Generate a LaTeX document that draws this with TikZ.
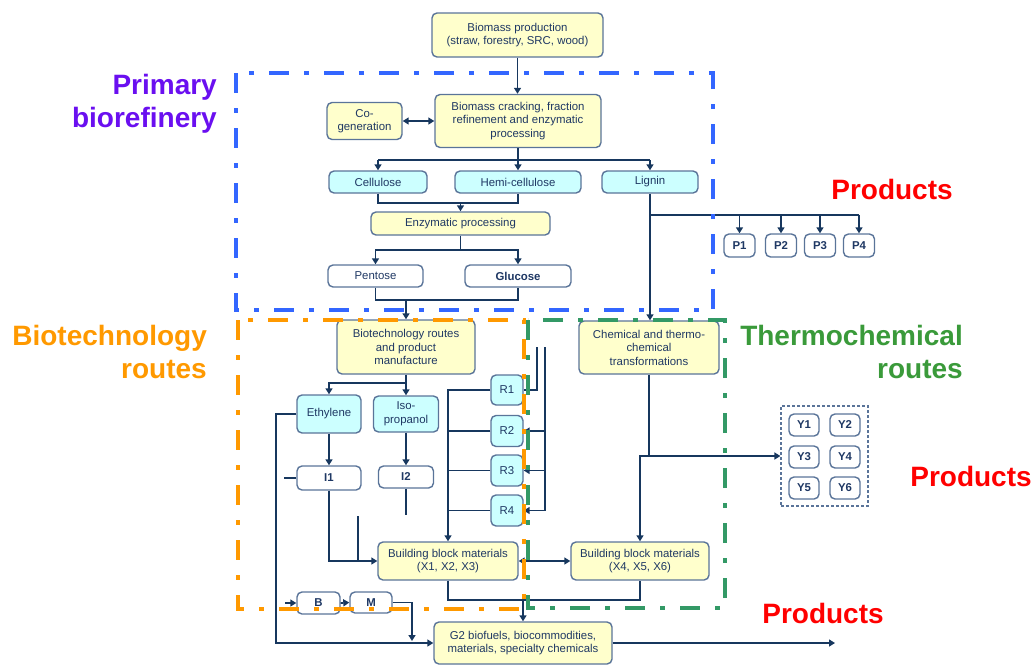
\documentclass[tikz,border=0pt]{standalone}
\usepackage{fontspec}
\setmainfont{Liberation Sans}
\usetikzlibrary{arrows.meta}
\definecolor{navy}{HTML}{17375E}
\definecolor{txt}{HTML}{1F3864}
\definecolor{bord}{HTML}{5A7499}
\definecolor{yel}{HTML}{FFFFCC}
\definecolor{cyn}{HTML}{CCFFFF}
\definecolor{fblue}{HTML}{3366FF}
\definecolor{forange}{HTML}{FF9900}
\definecolor{fgreen}{HTML}{339966}
\definecolor{purp}{HTML}{6A0FF0}
\definecolor{lgreen}{HTML}{3A9A3A}
\tikzset{
  box/.style={draw=bord, line width=1.4pt, rounded corners=5pt, text=txt,
    font=\fontsize{11.4}{13.5}\selectfont, align=center, inner sep=0pt},
  ybox/.style={box, fill=yel},
  cbox/.style={box, fill=cyn},
  wbox/.style={box, fill=white},
  bbox/.style={box, fill=white, font=\fontsize{11.4}{13.5}\selectfont\bfseries},
  ln/.style={draw=navy, line width=1.8pt},
  arr/.style={ln, -{Triangle[width=7pt,length=6pt]}},
  darr/.style={ln, {Triangle[width=7pt,length=6pt]}-{Triangle[width=7pt,length=6pt]}},
  frame/.style={line width=4pt, dash pattern=on 20pt off 15pt on 5pt off 15pt},
  big/.style={font=\fontsize{28}{33}\selectfont\bfseries, inner sep=0pt}
}
\begin{document}
\begin{tikzpicture}[x=1pt,y=-1pt]
\useasboundingbox (0,0) rectangle (1034,665);

% ---- nodes ----
\node[ybox, minimum width=171, minimum height=44] (bp) at (517.5,35) {Biomass production\\(straw, forestry, SRC, wood)};
\node[ybox, minimum width=75, minimum height=37] (cogen) at (364.5,121) {Co-\\generation};
\node[ybox, minimum width=166, minimum height=53] (crack) at (518,121) {Biomass cracking, fraction\\refinement and enzymatic\\processing};
\node[cbox, minimum width=98, minimum height=22] (cell) at (378,182) {Cellulose};
\node[cbox, minimum width=126, minimum height=22] (hemi) at (518,182) {Hemi-cellulose};
\node[cbox, minimum width=96, minimum height=22] (lig) at (650,182) {Lignin};
\node[ybox, minimum width=179, minimum height=23] (enz) at (460.5,223.5) {Enzymatic processing};
\node[wbox, minimum width=95, minimum height=22] (pent) at (375.5,276) {Pentose};
\node[bbox, minimum width=106, minimum height=22] (gluc) at (518,276) {Glucose};
\node[ybox, minimum width=138, minimum height=54] (biot) at (406,347) {Biotechnology routes\\and product\\manufacture};
\node[ybox, minimum width=140, minimum height=53] (chem) at (649,347.5) {Chemical and thermo-\\chemical\\transformations};
\node[cbox, minimum width=64, minimum height=38] (eth) at (329,414) {Ethylene};
\node[cbox, minimum width=65, minimum height=36] (iso) at (406,414) {Iso-\\propanol};
\node[bbox, minimum width=64, minimum height=24] (i1) at (329,478) {I1};
\node[bbox, minimum width=55, minimum height=22] (i2) at (406,477) {I2};
\node[cbox, minimum width=32, minimum height=30] (r1) at (507,390) {R1};
\node[cbox, minimum width=32, minimum height=31] (r2) at (507,431) {R2};
\node[cbox, minimum width=32, minimum height=31] (r3) at (507,470.5) {R3};
\node[cbox, minimum width=32, minimum height=31] (r4) at (507,510.5) {R4};
\node[ybox, minimum width=140, minimum height=38] (x1) at (448,561) {Building block materials\\(X1, X2, X3)};
\node[ybox, minimum width=138, minimum height=38] (x4) at (640,561) {Building block materials\\(X4, X5, X6)};
\node[bbox, minimum width=43, minimum height=22] (b) at (318.5,603) {B};
\node[bbox, minimum width=42, minimum height=21] (m) at (371,602.5) {M};
\node[ybox, minimum width=178, minimum height=42] (g2) at (523,643) {G2 biofuels, biocommodities,\\materials, specialty chemicals};
\node[bbox, minimum width=31, minimum height=23] (p1) at (739.5,245.5) {P1};
\node[bbox, minimum width=31, minimum height=23] (p2) at (781,245.5) {P2};
\node[bbox, minimum width=31, minimum height=23] (p3) at (820,245.5) {P3};
\node[bbox, minimum width=31, minimum height=23] (p4) at (859,245.5) {P4};
\node[draw=bord, line width=1.2pt, dash pattern=on 3pt off 2pt, minimum width=87, minimum height=100, inner sep=0pt] (ybox) at (824.5,456) {};
\node[bbox, minimum width=30, minimum height=22] (y1) at (804,425) {Y1};
\node[bbox, minimum width=30, minimum height=22] (y2) at (845,425) {Y2};
\node[bbox, minimum width=30, minimum height=22] (y3) at (804,457) {Y3};
\node[bbox, minimum width=30, minimum height=22] (y4) at (845,457) {Y4};
\node[bbox, minimum width=30, minimum height=22] (y5) at (804,488) {Y5};
\node[bbox, minimum width=30, minimum height=22] (y6) at (845,488) {Y6};

% ---- junction coordinates ----
\coordinate (jA) at (518,160);
\coordinate (jB) at (460.5,203);
\coordinate (jC) at (460.5,250);
\coordinate (jD) at (406,300);
\coordinate (jE) at (650,215);
\coordinate (jF) at (406,383);
\coordinate (jG) at (276,414);
\coordinate (s1) at (284,478);
\coordinate (s2) at (358,516);
\coordinate (s3) at (406,515);
\coordinate (t1) at (537,347);
\coordinate (t2) at (545,347);
\coordinate (jJ) at (523,600);
\coordinate (s4) at (285,603);
\coordinate (jK) at (412,641);
\coordinate (out) at (835,643);

% ---- connectors ----
\draw[arr] (bp.south) -- (bp.south |- crack.north);
\draw[darr] (cogen.east) -- (cogen.east -| crack.west);
\draw[ln] (crack.south) -- (jA);
\draw[ln] (cell.north |- jA) -- (lig.north |- jA);
\draw[arr] (cell.north |- jA) -- (cell.north);
\draw[arr] (jA) -- (hemi.north);
\draw[arr] (lig.north |- jA) -- (lig.north);
\draw[ln] (cell.south) |- (hemi.south |- jB) -- (hemi.south);
\draw[arr] (jB) -- (enz.north);
\draw[ln] (enz.south) -- (jC);
\draw[arr] (jC) -| (pent.north);
\draw[arr] (jC) -| (gluc.north);
\draw[ln] (pent.south) |- (gluc.south |- jD) -- (gluc.south);
\draw[arr] (jD) -- (biot.north);
\draw[arr] (lig.south) -- (lig.south |- chem.north);
\draw[ln] (jE) -- (p4.north |- jE);
\draw[arr] (p1.north |- jE) -- (p1.north);
\draw[arr] (p2.north |- jE) -- (p2.north);
\draw[arr] (p3.north |- jE) -- (p3.north);
\draw[arr] (p4.north |- jE) -- (p4.north);
\draw[ln] (biot.south) -- (jF);
\draw[arr] (jF) -| (eth.north);
\draw[arr] (jF) -| (iso.north);
\draw[arr] (eth.south) -- (i1.north);
\draw[arr] (iso.south) -- (i2.north);
\draw[arr] (eth.west) -- (jG) |- (g2.west);
\draw[ln] (s1) -- (i1.west);
\draw[arr] (i1.south) |- (x1.west);
\draw[ln] (s2) -- (s2 |- x1.west);
\draw[ln] (i2.south) -- (s3);
\draw[arr] (r1.west) -| (x1.north);
\draw[ln] (r2.west) -- (r2.west -| x1.north);
\draw[ln] (r3.west) -- (r3.west -| x1.north);
\draw[ln] (r4.west) -- (r4.west -| x1.north);
\draw[ln] (t1) |- (r1.east);
\draw[arr] (t2) |- (r4.east);
\draw[arr] (t2 |- r2.east) -- (r2.east);
\draw[arr] (t2 |- r3.east) -- (r3.east);
\draw[darr] (x1.east) -- (x4.west);
\draw[arr] (chem.south) |- (ybox.west);
\draw[arr] (chem.south |- ybox.west) -| (x4.north);
\draw[ln] (x1.south) |- (x4.south |- jJ) -- (x4.south);
\draw[arr] (jJ) -- (g2.north);
\draw[arr] (s4) -- (b.west);
\draw[arr] (b.east) -- (m.west);
\draw[arr] (m.east) -| (jK);
\draw[arr] (g2.east) -- (out);

% ---- frames ----
\draw[frame, draw=fblue] (236,73) rectangle (713,310);
\draw[frame, draw=forange] (238,320) rectangle (524,609);
\draw[frame, draw=fgreen] (528,320) rectangle (725,608);

% ---- labels ----
\node[big, text=purp, anchor=east, align=right] (lprim) at (217,104) {Primary\\biorefinery};
\node[big, text=forange, anchor=east, align=right] (lbio) at (207,352) {Biotechnology\\routes};
\node[big, text=lgreen, anchor=east, align=right] (lthermo) at (963,352) {Thermochemical\\routes};
\node[big, text=red] (prod1) at (892,189) {Products};
\node[big, text=red] (prod2) at (971,476) {Products};
\node[big, text=red] (prod3) at (823,613) {Products};
\end{tikzpicture}
\end{document}
